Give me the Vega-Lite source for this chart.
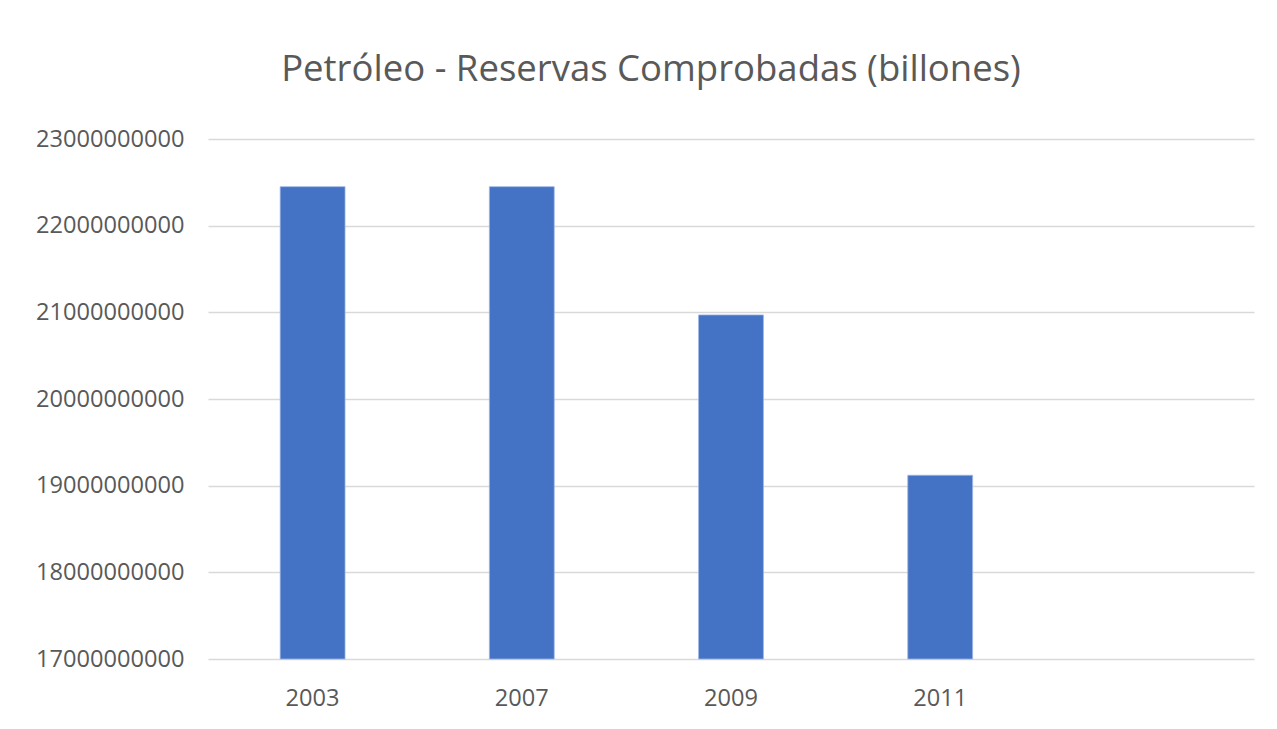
{
  "$schema": "https://vega.github.io/schema/vega-lite/v6.json",
  "width": 1046,
  "height": 520,
  "autosize": {"type": "none"},
  "padding": {"left": 208, "top": 139, "right": 23, "bottom": 70},
  "background": "white",
  "title": {
    "text": "Petróleo - Reservas Comprobadas (billones)",
    "font": "Open Sans",
    "fontSize": 36.5,
    "fontWeight": "normal",
    "color": "#595959",
    "anchor": "middle",
    "frame": "group",
    "dx": -80,
    "baseline": "alphabetic",
    "offset": 10
  },
  "data": {
    "values": [
      {"year": "2003", "reservas": 22450000000},
      {"year": "2007", "reservas": 22450000000},
      {"year": "2009", "reservas": 20970000000},
      {"year": "2011", "reservas": 19120000000}
    ]
  },
  "mark": {"type": "bar", "color": "#4472C4", "stroke": "#9DB5E3", "strokeWidth": 0.8},
  "encoding": {
    "x": {
      "field": "year",
      "type": "nominal",
      "scale": {"domain": ["2003", "2007", "2009", "2011", " "], "paddingInner": 0.69, "paddingOuter": 0.345},
      "axis": {
        "title": null,
        "labelAngle": 0,
        "labelFont": "Open Sans",
        "labelFontSize": 23.6,
        "labelColor": "#595959",
        "ticks": false,
        "domain": false,
        "labelPadding": 27,
        "grid": false
      }
    },
    "y": {
      "field": "reservas",
      "type": "quantitative",
      "scale": {"domain": [17000000000, 23000000000], "zero": false, "nice": false},
      "axis": {
        "title": null,
        "values": [17000000000, 18000000000, 19000000000, 20000000000, 21000000000, 22000000000, 23000000000],
        "format": "d",
        "labelFont": "Open Sans",
        "labelFontSize": 23.6,
        "labelColor": "#595959",
        "ticks": false,
        "domain": false,
        "labelPadding": 24,
        "grid": true,
        "gridColor": "#D9D9D9",
        "gridWidth": 1.6
      }
    },
    "y2": {"datum": 17000000000}
  },
  "config": {"view": {"stroke": null}}
}
